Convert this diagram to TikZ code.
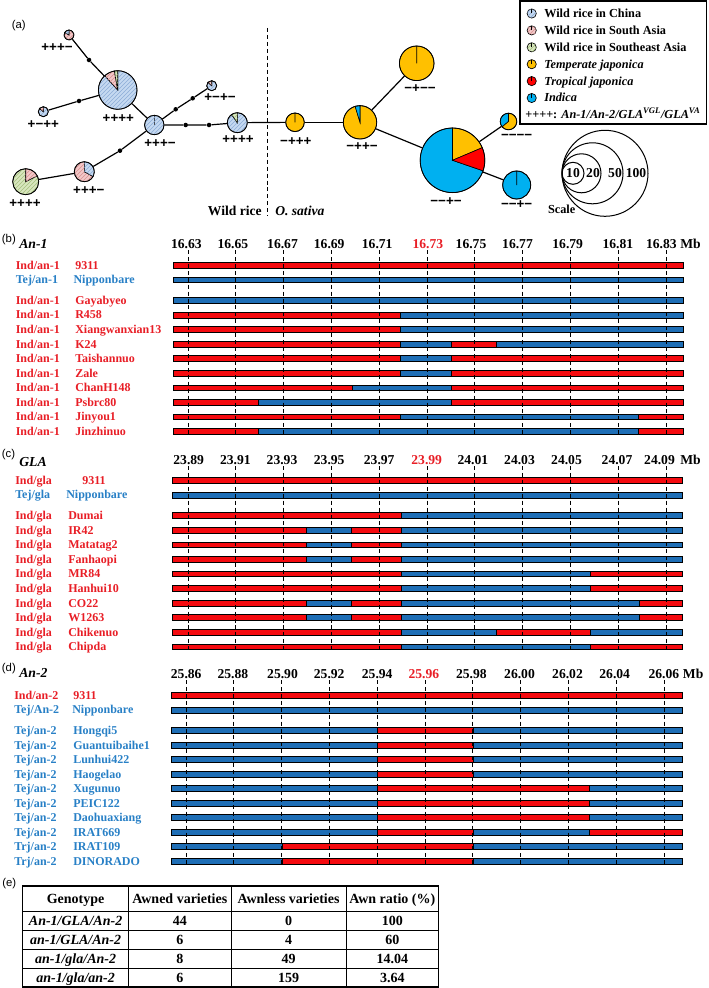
\documentclass[tikz,border=0pt]{standalone}
\usepackage{fontspec}
\setmainfont{Liberation Serif}
\setsansfont{Liberation Sans}
\usetikzlibrary{patterns}

\definecolor{wrChina}{RGB}{197,217,241}
\definecolor{wrChinaD}{RGB}{140,172,215}
\definecolor{wrSouth}{RGB}{243,200,200}
\definecolor{wrSouthD}{RGB}{215,145,145}
\definecolor{wrSE}{RGB}{216,230,190}
\definecolor{wrSED}{RGB}{165,192,125}
\definecolor{tempJ}{RGB}{255,192,0}
\definecolor{tropJ}{RGB}{255,0,0}
\definecolor{indJ}{RGB}{0,176,240}
\definecolor{rr}{RGB}{245,10,15}
\definecolor{bb}{RGB}{30,110,182}
\definecolor{labRed}{RGB}{232,30,38}
\definecolor{labBlue}{RGB}{40,128,198}

\newcommand{\fsLab}{\fontsize{9}{10}\selectfont\bfseries}
\newcommand{\fsTick}{\fontsize{10.2}{12}\selectfont\bfseries}
\newcommand{\fsHead}{\fontsize{10.3}{12}\selectfont\bfseries\itshape}
\newcommand{\fsPan}{\fontsize{8.5}{9}\selectfont\sffamily}
\newcommand{\fsPie}{\fontsize{10}{11}\selectfont\sffamily\bfseries}
\newcommand{\fsLeg}{\fontsize{9.2}{10}\selectfont\bfseries}
\newcommand{\fsTab}{\fontsize{10.5}{12}\selectfont\bfseries}

% slice: style, x, y, r, a1, a2 (visual angles, counter-clockwise)
\newcommand{\pslice}[6]{\filldraw[#1, draw=black, line width=0.45pt] (#2,#3) -- ++({-(#5)}:#4) arc[start angle={-(#5)}, end angle={-(#6)}, radius=#4] -- cycle;}
% bar row: y, x0, list end/colour
\newcommand{\segrow}[3]{%
  \foreach \e/\c [remember=\e as \lastx (initially #2)] in {#3} {%
    \filldraw[fill=\c, draw=black, line width=0.6pt] (\lastx,{#1-2.9}) rectangle (\e,{#1+2.9});
  }}
% row labels: name, y, x1, text1, x2, text2, colour
\newcommand{\rowlab}[7]{%
  \node[tl, font=\fsLab, text=#7] (#1a) at (#3,{#2+3.9}) {#4};
  \node[tl, font=\fsLab, text=#7] (#1b) at (#5,{#2+3.9}) {#6};}

\tikzset{
  hChina/.style={fill=wrChina, postaction={pattern=north east lines, pattern color=wrChinaD}},
  hSouth/.style={fill=wrSouth, postaction={pattern=north east lines, pattern color=wrSouthD}},
  hSE/.style={fill=wrSE, postaction={pattern=north east lines, pattern color=wrSED}},
  fTemp/.style={fill=tempJ},
  fTrop/.style={fill=tropJ},
  fInd/.style={fill=indJ},
}

\begin{document}
\begin{tikzpicture}[x=0.75pt,y=-0.75pt,
  netline/.style={line width=0.9pt},
  dotn/.style={circle, fill=black, inner sep=0pt, minimum size=3.4pt},
  piec/.style={circle, draw=black, line width=0.6pt, inner sep=0pt},
  dline/.style={dash pattern=on 3pt off 2.2pt, line width=0.75pt},
  tl/.style={inner sep=0pt, anchor=base west},
  tc/.style={inner sep=0pt, anchor=base},
  ]
\useasboundingbox (0,0) rectangle (709,988);

%% ================= Panel (a) =================
\node[tl, font=\fsPan] (labA) at (11.5,29) {(a)};

% pies
\pslice{hSouth}{69}{35}{5}{150}{450}
\pslice{hChina}{69}{35}{5}{90}{150}
\node[piec, minimum size=7.5pt] (P1) at (69,35) {};

\pslice{hChina}{117.7}{90}{19.3}{132}{450}
\pslice{hSouth}{117.7}{90}{19.3}{100}{132}
\pslice{hSE}{117.7}{90}{19.3}{90}{100}
\node[piec, minimum size=28.95pt] (P2) at (117.7,90) {};

\pslice{hChina}{43.3}{111.7}{5}{140}{450}
\pslice{hSouth}{43.3}{111.7}{5}{90}{140}
\node[piec, minimum size=7.5pt] (P3) at (43.3,111.7) {};

\pslice{hChina}{154.3}{125}{9.7}{90}{450}
\node[piec, minimum size=14.55pt] (P4) at (154.3,125) {};

\pslice{hChina}{211.7}{85.7}{5}{140}{450}
\pslice{hSouth}{211.7}{85.7}{5}{90}{140}
\node[piec, minimum size=7.5pt] (P5) at (211.7,85.7) {};

\pslice{hChina}{237.3}{122.7}{10}{125}{450}
\pslice{hSE}{237.3}{122.7}{10}{90}{125}
\node[piec, minimum size=15pt] (P6) at (237.3,122.7) {};

\pslice{hSouth}{84.3}{171.7}{10}{90}{331}
\pslice{hChina}{84.3}{171.7}{10}{-29}{90}
\node[piec, minimum size=15pt] (P7) at (84.3,171.7) {};

\pslice{hSE}{25.7}{181.7}{13}{90}{387}
\pslice{hSouth}{25.7}{181.7}{13}{27}{90}
\node[piec, minimum size=19.5pt] (P8) at (25.7,181.7) {};

\pslice{fTemp}{295}{122.3}{9.3}{90}{450}
\node[piec, minimum size=13.95pt] (P9) at (295,122.3) {};

\pslice{fTemp}{360}{122.3}{16.7}{107}{450}
\pslice{fInd}{360}{122.3}{16.7}{90}{107}
\node[piec, minimum size=25.05pt] (P10) at (360,122.3) {};

\pslice{fTemp}{416.7}{63.3}{17.3}{90}{450}
\node[piec, minimum size=25.95pt] (P11) at (416.7,63.3) {};

\pslice{fInd}{452.5}{160.3}{32.3}{90}{341}
\pslice{fTemp}{452.5}{160.3}{32.3}{23}{90}
\pslice{fTrop}{452.5}{160.3}{32.3}{-19}{23}
\node[piec, minimum size=48.45pt] (P12) at (452.5,160.3) {};

\pslice{fInd}{508.5}{121.5}{8.3}{90}{220}
\pslice{fTemp}{508.5}{121.5}{8.3}{220}{450}
\node[piec, minimum size=12.45pt] (P13) at (508.5,121.5) {};

\pslice{fInd}{516.7}{185}{14}{90}{450}
\node[piec, minimum size=21pt] (P14) at (516.7,185) {};

% median vectors
\node[dotn] (D1) at (89,60) {};
\node[dotn] (D2) at (79,101) {};
\node[dotn] (D3) at (175.7,109.3) {};
\node[dotn] (D4) at (192.7,98.3) {};
\node[dotn] (D5) at (185.7,125) {};
\node[dotn] (D6) at (209,125) {};
\node[dotn] (D7) at (120,150.7) {};

% connectors
\draw[netline] (P1) -- (D1) -- (P2);
\draw[netline] (P3) -- (D2) -- (P2);
\draw[netline] (P2) -- (P4);
\draw[netline] (P4) -- (D3) -- (D4) -- (P5);
\draw[netline] (P4) -- (D5) -- (D6) -- (P6);
\draw[netline] (P4) -- (D7) -- (P7);
\draw[netline] (P7) -- (P8);
\draw[netline] (P6) -- (P9);
\draw[netline] (P9) -- (P10);
\draw[netline] (P10) -- (P11);
\draw[netline] (P10) -- (P12);
\draw[netline] (P12) -- (P13);
\draw[netline] (P12) -- (P14);

% pie labels
\node[font=\fsPie, inner sep=0] (L1) at (57,47.7) {+++−};
\node[font=\fsPie, inner sep=0] (L2) at (118.3,118.3) {++++};
\node[font=\fsPie, inner sep=0] (L3) at (43.3,125) {+−++};
\node[font=\fsPie, inner sep=0] (L4) at (160,144) {+++−};
\node[font=\fsPie, inner sep=0] (L5) at (220,97.3) {+−+−};
\node[font=\fsPie, inner sep=0] (L6) at (238,139.5) {++++};
\node[font=\fsPie, inner sep=0] (L7) at (88.8,190.7) {+++−};
\node[font=\fsPie, inner sep=0] (L8) at (25,204) {++++};
\node[font=\fsPie, inner sep=0] (L9) at (295.8,141.7) {−+++};
\node[font=\fsPie, inner sep=0] (L10) at (362,146.7) {−++−};
\node[font=\fsPie, inner sep=0] (L11) at (420,88.3) {−+−−};
\node[font=\fsPie, inner sep=0] (L12) at (446,201.7) {−−+−};
\node[font=\fsPie, inner sep=0] (L13) at (516.7,136.5) {−−−−};
\node[font=\fsPie, inner sep=0] (L14) at (516.7,205) {−−+−};

% divider
\draw[dline] (267,28) -- (267,216);
\node[font=\fsTick, anchor=base east, inner sep=0] (wildr) at (262,215.6) {Wild rice};
\node[font=\fsTick\itshape, anchor=base west, inner sep=0] (osat) at (275,215.6) {O. sativa};

% legend
\draw[line width=0.8pt] (520,1) rectangle (706.7,124);
\foreach \st/\tx [count=\i from 0] in {hChina/{Wild rice in China}, hSouth/{Wild rice in South Asia}, hSE/{Wild rice in Southeast Asia}, fTemp/{\itshape Temperate japonica}, fTrop/{\itshape Tropical japonica}, fInd/{\itshape Indica}} {
  \filldraw[\st, draw=black, line width=0.5pt] (531.7,{13.5+16.9*\i}) circle[radius=4.6];
  \draw[line width=0.5pt] (531.7,{13.5+16.9*\i}) -- (531.7,{13.5+16.9*\i-4.6});
  \node[tl, font=\fsLeg] (leg\i) at (544,{17.5+16.9*\i}) {\tx};
}
\node[tl, font=\fsLeg] (legK) at (525,118.9) {++++: \textit{An-1/An-2/GLA\textsuperscript{VGL}/GLA\textsuperscript{VA}}};

% scale
\draw[line width=0.75pt] (605,173.3) circle[radius=43];
\draw[line width=0.75pt] (592.5,173.3) circle[radius=30.5];
\draw[line width=0.75pt] (581.5,173.3) circle[radius=19.5];
\draw[line width=0.75pt] (573,173.3) circle[radius=11];
\node[tc, font=\fsTick] (s10) at (573,177.8) {10};
\node[tc, font=\fsTick] (s20) at (593,177.8) {20};
\node[tc, font=\fsTick] (s50) at (615,177.8) {50};
\node[tc, font=\fsTick] (s100) at (636,177.8) {100};
\node[tc, font=\fsLeg] (scl) at (561.7,213) {Scale};

%% ================= Panel (b) =================
\node[tl, font=\fsPan] (labB) at (1.7,242.5) {(b)};
\node[tl, font=\fsHead] (hB) at (19,248.3) {An-1};
\foreach \t/\xx [count=\i from 0] in {16.63/186.3,16.65/232.8,16.67/282.5,16.69/329.2,16.71/377.2,16.73/427.8,16.75/471,16.77/517.5,16.79/567.7,16.81/617.8,16.83/661.3} {
  \node[tc, font=\fsTick] (tb\i) at (\xx,248.3) {\ifnum\i=5 \color{labRed}\fi\t};
}
\node[tl, font=\fsTick] (mbB) at (680,248.3) {Mb};

\segrow{265.3}{173}{683/rr}
\segrow{279.8}{173}{683/bb}
\segrow{300.5}{173}{683/bb}
\segrow{315.05}{173}{400.7/rr,683/bb}
\segrow{329.6}{173}{400.7/rr,683/bb}
\segrow{344.15}{173}{400.7/rr,451/bb,496/rr,683/bb}
\segrow{358.7}{173}{400.7/rr,451/bb,683/rr}
\segrow{373.25}{173}{400.7/rr,451/bb,683/rr}
\segrow{387.8}{173}{352.7/rr,451/bb,683/rr}
\segrow{402.35}{173}{258/rr,451/bb,683/rr}
\segrow{416.9}{173}{400.7/rr,638.7/bb,683/rr}
\segrow{431.45}{173}{258/rr,638.7/bb,683/rr}
\foreach \i in {0,...,10} { \draw[dline] ({188+47.8*\i},250) -- ({188+47.8*\i},437); }

\rowlab{b1}{265.3}{15.5}{Ind/an-1}{75}{9311}{labRed}
\rowlab{b2}{279.8}{15.5}{Tej/an-1}{73.3}{Nipponbare}{labBlue}
\rowlab{b3}{300.5}{15.5}{Ind/an-1}{75}{Gayabyeo}{labRed}
\rowlab{b4}{315.05}{15.5}{Ind/an-1}{75}{R458}{labRed}
\rowlab{b5}{329.6}{15.5}{Ind/an-1}{75}{Xiangwanxian13}{labRed}
\rowlab{b6}{344.15}{15.5}{Ind/an-1}{75}{K24}{labRed}
\rowlab{b7}{358.7}{15.5}{Ind/an-1}{75}{Taishannuo}{labRed}
\rowlab{b8}{373.25}{15.5}{Ind/an-1}{75}{Zale}{labRed}
\rowlab{b9}{387.8}{15.5}{Ind/an-1}{75}{ChanH148}{labRed}
\rowlab{b10}{402.35}{15.5}{Ind/an-1}{75}{Psbrc80}{labRed}
\rowlab{b11}{416.9}{15.5}{Ind/an-1}{75}{Jinyou1}{labRed}
\rowlab{b12}{431.45}{15.5}{Ind/an-1}{75}{Jinzhinuo}{labRed}

%% ================= Panel (c) =================
\node[tl, font=\fsPan] (labC) at (1.7,457.5) {(c)};
\node[tl, font=\fsHead] (hC) at (19,466.5) {GLA};
\foreach \t/\xx [count=\i from 0] in {23.89/188.7,23.91/235.3,23.93/282,23.95/329.2,23.97/379.2,23.99/426.7,24.01/472.8,24.03/519.5,24.05/566.5,24.07/617,24.09/659.5} {
  \node[tc, font=\fsTick] (tc\i) at (\xx,464.3) {\ifnum\i=5 \color{labRed}\fi\t};
}
\node[tl, font=\fsTick] (mbC) at (680,464.3) {Mb};

\segrow{480.3}{172.7}{682.7/rr}
\segrow{495}{172.7}{682.7/bb}
\segrow{515.7}{172.7}{401/rr,682.7/bb}
\segrow{530.27}{172.7}{306/rr,351.7/bb,401/rr,682.7/bb}
\segrow{544.84}{172.7}{306/rr,351.7/bb,401/rr,682.7/bb}
\segrow{559.41}{172.7}{306/rr,351.7/bb,401/rr,682.7/bb}
\segrow{573.98}{172.7}{401/rr,590/bb,682.7/rr}
\segrow{588.55}{172.7}{401/rr,590/bb,682.7/rr}
\segrow{603.12}{172.7}{306/rr,351.7/bb,401/rr,639.3/bb,682.7/rr}
\segrow{617.69}{172.7}{306/rr,351.7/bb,401/rr,639.3/bb,682.7/rr}
\segrow{632.26}{172.7}{401/rr,496.7/bb,590/rr,682.7/bb}
\segrow{646.83}{172.7}{401/rr,590/bb,682.7/rr}
\foreach \i in {0,...,10} { \draw[dline] ({188+47.8*\i},466) -- ({188+47.8*\i},652); }

\rowlab{c1}{480.3}{15}{Ind/gla}{82}{9311}{labRed}
\rowlab{c2}{495}{15}{Tej/gla}{66}{Nipponbare}{labBlue}
\rowlab{c3}{515.7}{15}{Ind/gla}{68}{Dumai}{labRed}
\rowlab{c4}{530.27}{15}{Ind/gla}{68}{IR42}{labRed}
\rowlab{c5}{544.84}{15}{Ind/gla}{68}{Matatag2}{labRed}
\rowlab{c6}{559.41}{15}{Ind/gla}{68}{Fanhaopi}{labRed}
\rowlab{c7}{573.98}{15}{Ind/gla}{68}{MR84}{labRed}
\rowlab{c8}{588.55}{15}{Ind/gla}{68}{Hanhui10}{labRed}
\rowlab{c9}{603.12}{15}{Ind/gla}{68}{CO22}{labRed}
\rowlab{c10}{617.69}{15}{Ind/gla}{68}{W1263}{labRed}
\rowlab{c11}{632.26}{15}{Ind/gla}{68}{Chikenuo}{labRed}
\rowlab{c12}{646.83}{15}{Ind/gla}{68}{Chipda}{labRed}

%% ================= Panel (d) =================
\node[tl, font=\fsPan] (labD) at (1.7,671) {(d)};
\node[tl, font=\fsHead] (hD) at (19,677.7) {An-2};
\foreach \t/\xx [count=\i from 0] in {25.86/186.2,25.88/232.8,25.90/282.5,25.92/329.2,25.94/377.2,25.96/423.8,25.98/471.3,26.00/519.5,26.02/567.5,26.04/614.7,26.06/663.8} {
  \node[tc, font=\fsTick] (td\i) at (\xx,678.3) {\ifnum\i=5 \color{labRed}\fi\t};
}
\node[tl, font=\fsTick] (mbD) at (682.7,678.3) {Mb};

\segrow{695.3}{171.7}{682/rr}
\segrow{710}{171.7}{682/bb}
\segrow{730.7}{171.7}{377.3/bb,473.3/rr,682/bb}
\segrow{745.2}{171.7}{377.3/bb,473.3/rr,682/bb}
\segrow{759.7}{171.7}{377.3/bb,473.3/rr,682/bb}
\segrow{774.2}{171.7}{377.3/bb,473.3/rr,682/bb}
\segrow{788.7}{171.7}{377.3/bb,589.5/rr,682/bb}
\segrow{803.2}{171.7}{377.3/bb,589.5/rr,682/bb}
\segrow{817.7}{171.7}{377.3/bb,589.5/rr,682/bb}
\segrow{832.2}{171.7}{377.3/bb,473.3/rr,589.5/bb,682/rr}
\segrow{846.7}{171.7}{282/bb,473.3/rr,682/bb}
\segrow{861.2}{171.7}{282/bb,473.3/rr,682/bb}
\foreach \i in {0,...,10} { \draw[dline] ({186+47.8*\i},680) -- ({186+47.8*\i},867); }

\rowlab{d1}{695.3}{14}{Ind/an-2}{73}{9311}{labRed}
\rowlab{d2}{710}{14}{Tej/An-2}{72}{Nipponbare}{labBlue}
\rowlab{d3}{730.7}{14}{Tej/an-2}{73}{Hongqi5}{labBlue}
\rowlab{d4}{745.2}{14}{Tej/an-2}{73}{Guantuibaihe1}{labBlue}
\rowlab{d5}{759.7}{14}{Tej/an-2}{73}{Lunhui422}{labBlue}
\rowlab{d6}{774.2}{14}{Tej/an-2}{73}{Haogelao}{labBlue}
\rowlab{d7}{788.7}{14}{Tej/an-2}{73}{Xugunuo}{labBlue}
\rowlab{d8}{803.2}{14}{Tej/an-2}{73}{PEIC122}{labBlue}
\rowlab{d9}{817.7}{14}{Tej/an-2}{73}{Daohuaxiang}{labBlue}
\rowlab{d10}{832.2}{14}{Tej/an-2}{73}{IRAT669}{labBlue}
\rowlab{d11}{846.7}{14}{Trj/an-2}{73}{IRAT109}{labBlue}
\rowlab{d12}{861.2}{14}{Trj/an-2}{73}{DINORADO}{labBlue}

%% ================= Panel (e) =================
\node[tl, font=\fsPan] (labE) at (2,886) {(e)};
\foreach \yy in {911,930,949,968} { \draw[line width=0.7pt] (22.7,\yy) -- (438.6,\yy); }
\foreach \xx in {128.6,231,346} { \draw[line width=0.7pt] (\xx,886) -- (\xx,987); }
\draw[line width=1pt] (22.7,886) rectangle (438.6,987);

\node[tc, font=\fsTab] (e00) at (75.6,903) {Genotype};
\node[tc, font=\fsTab] (e01) at (179.8,903) {Awned varieties};
\node[tc, font=\fsTab] (e02) at (288.5,903) {Awnless varieties};
\node[tc, font=\fsTab] (e03) at (392.3,903) {Awn ratio (\%)};

\node[tc, font=\fsTab\itshape] (e10) at (75.6,925) {An-1/GLA/An-2};
\node[tc, font=\fsTab] (e11) at (179.8,925) {44};
\node[tc, font=\fsTab] (e12) at (288.5,925) {0};
\node[tc, font=\fsTab] (e13) at (392.3,925) {100};

\node[tc, font=\fsTab\itshape] (e20) at (75.6,944) {an-1/GLA/An-2};
\node[tc, font=\fsTab] (e21) at (179.8,944) {6};
\node[tc, font=\fsTab] (e22) at (288.5,944) {4};
\node[tc, font=\fsTab] (e23) at (392.3,944) {60};

\node[tc, font=\fsTab\itshape] (e30) at (75.6,963) {an-1/gla/An-2};
\node[tc, font=\fsTab] (e31) at (179.8,963) {8};
\node[tc, font=\fsTab] (e32) at (288.5,963) {49};
\node[tc, font=\fsTab] (e33) at (392.3,963) {14.04};

\node[tc, font=\fsTab\itshape] (e40) at (75.6,982) {an-1/gla/an-2};
\node[tc, font=\fsTab] (e41) at (179.8,982) {6};
\node[tc, font=\fsTab] (e42) at (288.5,982) {159};
\node[tc, font=\fsTab] (e43) at (392.3,982) {3.64};

\end{tikzpicture}
\end{document}
